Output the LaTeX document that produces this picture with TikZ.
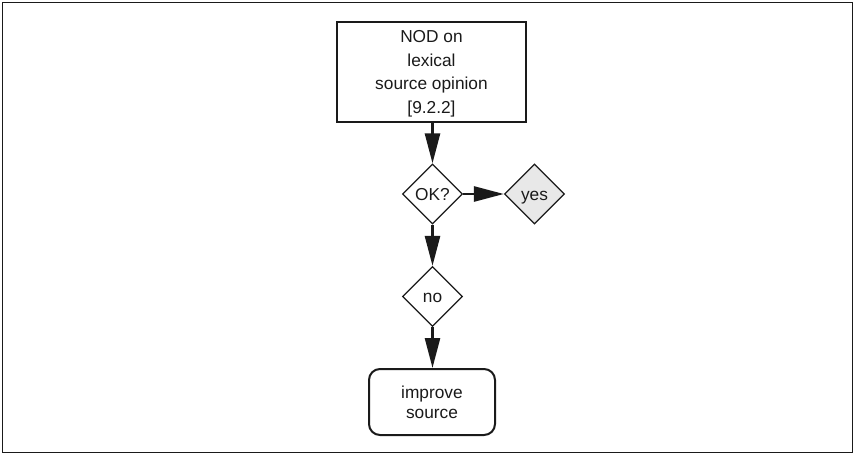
\documentclass[tikz,border=0pt]{standalone}
\usepackage{fontspec}
\setmainfont{Liberation Sans}
\usetikzlibrary{shapes.geometric,arrows.meta}
\definecolor{yesfill}{HTML}{E8E8E8}
\definecolor{ink}{HTML}{1A1A1A}
\tikzset{
  base/.style={draw=ink, line width=2pt, font=\fontsize{17.3}{23.5}\selectfont, align=center, inner sep=0pt, text=ink},
  procbox/.style={base, rectangle, minimum width=189pt, minimum height=100pt, text depth=-6pt},
  endbox/.style={base, rectangle, rounded corners=11pt, minimum width=126pt, minimum height=66pt, font=\fontsize{17.3}{20}\selectfont},
  decision/.style={base, diamond, line width=1.2pt, minimum width=60pt, minimum height=60pt, aspect=1, text height=12.4pt, text depth=0pt},
  flow/.style={draw=ink, line width=2.6pt, -{Triangle[length=30pt,width=15pt]}, shorten >=0pt},
}
\begin{document}
\begin{tikzpicture}[x=1pt,y=-1pt]
\useasboundingbox (0,0) rectangle (855,455);
\draw[line width=1.1pt, ink] (2.5,2.5) rectangle (852.5,452.5);
\node[procbox] (nod) at (431.5,72) {NOD on\\lexical\\source opinion\\{[9.2.2]}};
\node[decision] (ok) at (432.5,194) {OK?};
\node[decision, fill=yesfill] (yes) at (534.5,194) {yes};
\node[decision] (no) at (432.5,296.5) {no};
\node[endbox] (imp) at (432,402) {improve\\source};
\draw[flow] (nod.south -| ok.north) -- (ok.north);
\draw[flow] (ok.east) -- (yes.west);
\draw[flow] (ok.south) -- (no.north);
\draw[flow] (no.south) -- (imp.north -| no.south);
\end{tikzpicture}
\end{document}
